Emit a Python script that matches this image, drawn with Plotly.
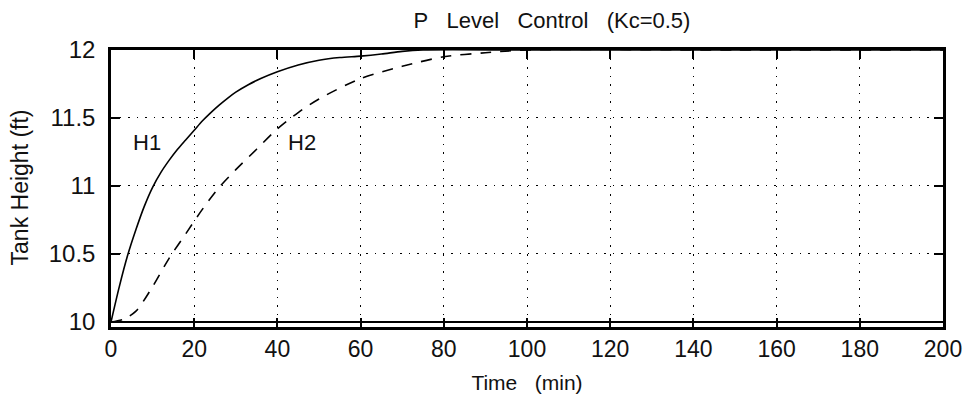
import plotly.graph_objects as go

# Data
t_h1 = [0, 2, 4, 6, 8, 10, 12, 14, 16, 18, 20, 22, 24, 26, 28, 30, 33, 36, 40, 45, 50, 55, 60, 65, 70, 75, 100, 150, 200]
h1 = [10.0, 10.26, 10.49, 10.68, 10.85, 10.99, 11.1, 11.19, 11.27, 11.34, 11.41, 11.48, 11.54, 11.595, 11.645, 11.69,
      11.745, 11.79, 11.84, 11.89, 11.925, 11.945, 11.955, 11.97, 11.99, 12.0, 12.0, 12.0, 12.0]

t_h2 = [0, 3, 6, 10, 14, 18, 22, 26, 30, 35, 40, 45, 50, 60, 70, 80, 90, 100, 150, 200]
h2 = [10.0, 10.02, 10.08, 10.26, 10.47, 10.65, 10.83, 10.99, 11.12, 11.27, 11.42, 11.54, 11.64, 11.79, 11.88,
      11.95, 11.98, 12.0, 12.0, 12.0]

x_ticks = [0, 20, 40, 60, 80, 100, 120, 140, 160, 180, 200]
y_ticks = [10, 10.5, 11, 11.5, 12]
y_tick_labels = ["10", "10.5", "11", "11.5", "12"]

FONT = "Liberation Sans, Arial, Helvetica"

fig = go.Figure()
fig.add_trace(go.Scatter(x=t_h1, y=h1, mode="lines", name="H1",
                         line=dict(color="black", width=1.6, shape="spline", smoothing=0.8)))
fig.add_trace(go.Scatter(x=t_h2, y=h2, mode="lines", name="H2",
                         line=dict(color="black", width=1.6, dash="11px,9px", shape="spline", smoothing=0.8)))

# solid baseline at y=10 (double bottom line in the reference)
fig.add_shape(type="line", xref="x", yref="y", x0=0, x1=200, y0=10, y1=10,
              line=dict(color="black", width=2))

fig.add_annotation(x=8.7, y=11.32, text="H1", showarrow=False,
                   font=dict(family=FONT, size=22, color="#111"))
fig.add_annotation(x=46, y=11.32, text="H2", showarrow=False,
                   font=dict(family=FONT, size=22, color="#111"))

# y-axis title placed as rotated text, left of the tick labels
fig.add_annotation(xref="paper", yref="paper", x=-0.109, y=0.505, text="Tank Height (ft)",
                   textangle=-90, showarrow=False, xanchor="center", yanchor="middle",
                   font=dict(family=FONT, size=23, color="#111"))

nb = "\u00a0"
sp = nb * 3
fig.update_layout(
    width=969, height=394,
    margin=dict(l=103, r=34, t=42, b=75),
    paper_bgcolor="white", plot_bgcolor="white",
    showlegend=False,
    title=dict(text=f"P{sp}Level{sp}Control{sp}(Kc=0.5)",
               x=0.53, xref="paper", xanchor="center",
               y=1 - 12 / 394, yref="container", yanchor="middle",
               font=dict(family=FONT, size=22, color="#111")),
    xaxis=dict(range=[0, 200], tickvals=x_ticks, ticks="inside", ticklen=9, tickwidth=1.5,
               tickcolor="black", showline=True, linecolor="black", linewidth=2.5, mirror="ticks",
               showgrid=True, gridcolor="black", gridwidth=1, griddash="1.5px,7px",
               zeroline=False, ticklabelstandoff=0,
               tickfont=dict(family=FONT, size=23, color="#111"),
               title=dict(text=f"Time{sp}(min)", standoff=14,
                          font=dict(family=FONT, size=21, color="#111"))),
    yaxis=dict(range=[9.963, 12], tickvals=y_ticks, ticktext=y_tick_labels, ticks="inside", ticklen=9,
               tickwidth=1.5, tickcolor="black", showline=True, linecolor="black", linewidth=2.5,
               mirror="ticks", showgrid=True, gridcolor="black", gridwidth=1, griddash="1.5px,7px",
               zeroline=False, ticklabelstandoff=8,
               tickfont=dict(family=FONT, size=24, color="#111")),
)

fig.write_html("out.html")
